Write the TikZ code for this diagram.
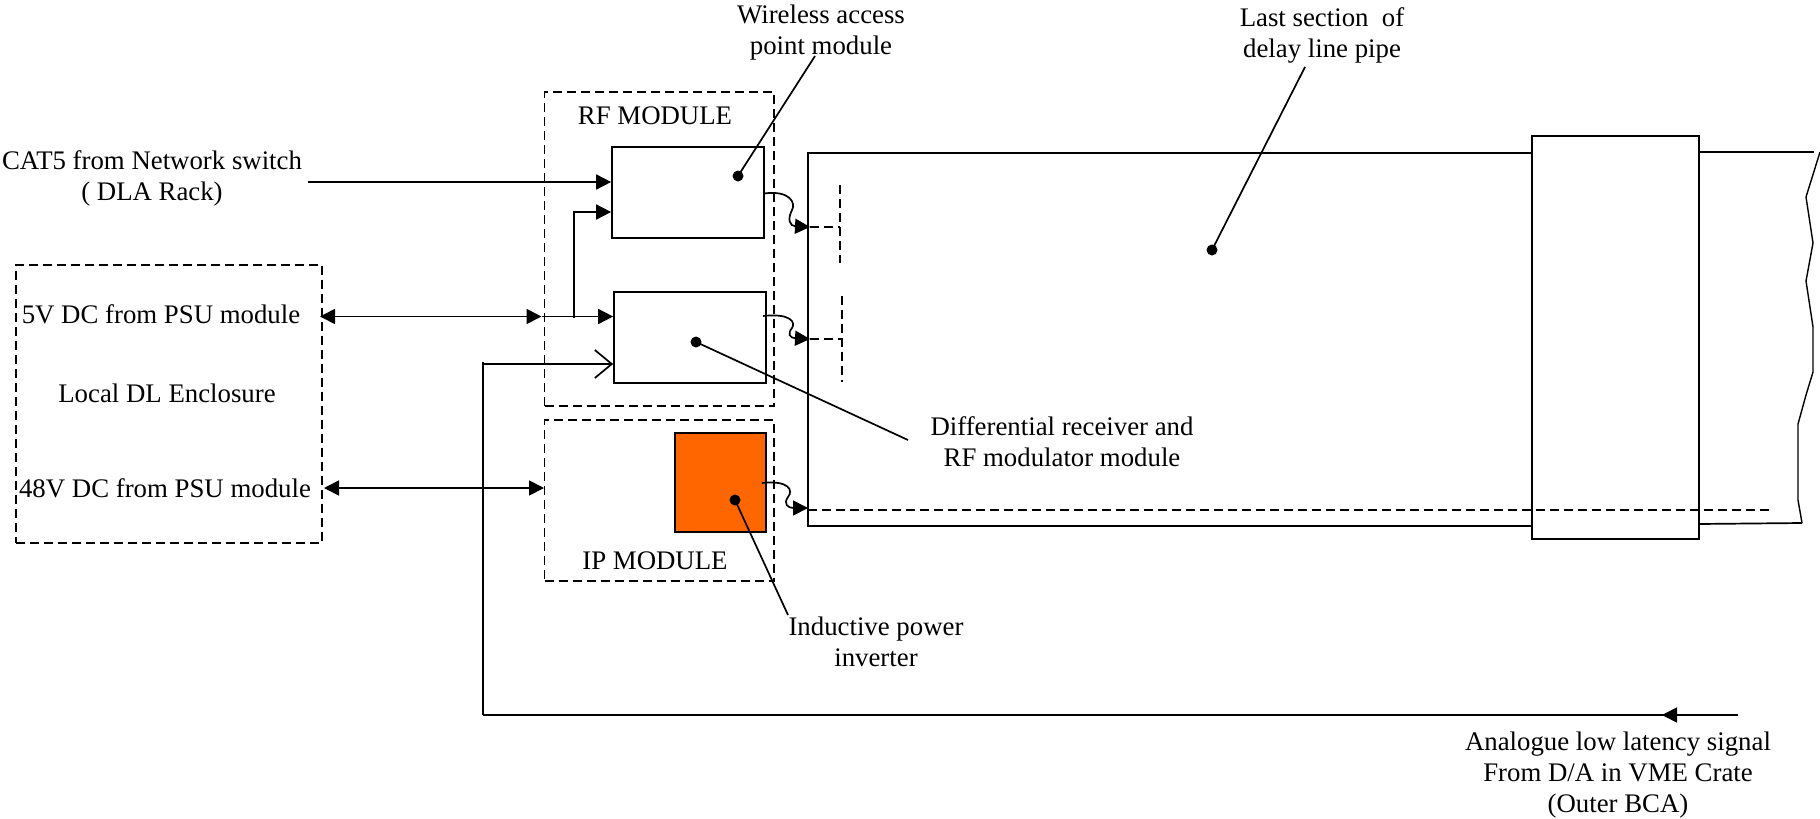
\documentclass[tikz,border=0pt]{standalone}
\usepackage{fontspec}
\setmainfont{Liberation Serif}
\usetikzlibrary{arrows.meta}
\definecolor{ipfill}{RGB}{255,102,0}
\tikzset{
  x=1pt,y=-1pt,
  every path/.style={line width=1.7pt},
  lbl/.style={inner sep=0pt,align=center,font=\fontsize{26.8}{31}\selectfont},
  solidbox/.style={draw,rectangle,inner sep=0pt,minimum width=#1},
  dashbox/.style={draw,rectangle,inner sep=0pt,dash pattern=on 9pt off 5pt,minimum width=#1},
  dashln/.style={dash pattern=on 9pt off 5pt},
  solidtip/.style={-{Triangle[length=15pt,width=15pt]}},
  bothtip/.style={{Triangle[length=15pt,width=15pt]}-{Triangle[length=15pt,width=15pt]}},
  opentip/.style={-{Straight Barb[length=17pt,width=28pt,line width=1.7pt]}},
  dotmark/.style={circle,fill=black,inner sep=0pt,minimum size=11pt},
}
\begin{document}
\begin{tikzpicture}
\useasboundingbox (0,0) rectangle (1820,819);
% dashed enclosures
\node[dashbox=229.5pt,minimum height=314pt] (rfmod) at (659.25,249) {};
\node[dashbox=229.5pt,minimum height=161pt] (ipmod) at (659.25,500.5) {};
\node[dashbox=306pt,minimum height=278pt] (encl) at (169,404) {};
% module boxes
\node[solidbox=152pt,minimum height=91pt] (wap) at (688,192.5) {};
\node[solidbox=152pt,minimum height=91pt] (rx) at (690,337.5) {};
\node[solidbox=91pt,minimum height=99pt,fill=ipfill] (ipi) at (720.5,482.5) {};
% pipe
\coordinate (ptl) at (808,153);
\coordinate (pbl) at (808,526);
\coordinate (ctl) at (1532,153);
\coordinate (cbl) at (1532,526);
\coordinate (ctr) at (1699,152);
\coordinate (cbr) at (1699,524);
\coordinate (rtop) at (1814,152);
\coordinate (rbot) at (1802,523);
\draw (ctl) -- (ptl) -- (pbl) -- (cbl);
\draw (ctr) -- (rtop);
\draw (cbr) -- (rbot);
\draw[line width=1.4pt] (1820,152) -- (1806,197) -- (1813,243) -- (1806,281) -- (1813,327) -- (1813,372) -- (1806,395) -- (1798,424) -- (1798,500) -- (rbot);
% antennas / dashed
\coordinate (t1) at (810,227);
\coordinate (t2) at (810,339);
\coordinate (t3) at (808,508);
\coordinate (a1) at (840,227);
\coordinate (a2) at (842,339);
\coordinate (a3) at (1770,510);
\draw[dashln] (t1) -- (a1);
\draw[dashln] (840,185) -- (840,263);
\draw[dashln] (t2) -- (a2);
\draw[dashln] (842,296) -- (842,382);
\draw[dashln] (808,510) -- (a3);
% collar
\node[solidbox=167pt,minimum height=403pt] (collar) at (1615.5,337.5) {};
% wavy links
\draw[solidtip] (764,193.5) .. controls (790,190) and (796,203) .. (792,210) .. controls (787,220) and (790,226) .. (t1);
\draw[solidtip] (763,316) .. controls (790,313) and (796,322) .. (792,328) .. controls (787,334) and (790,338) .. (t2);
\draw[solidtip] (762,483) .. controls (788,480) and (794,490) .. (788,497) .. controls (783,504) and (788,508) .. (t3);
% arrows
\node[lbl] (cat) at (152,178) {CAT5 from Network switch\\( DLA Rack)};
\coordinate (catend) at (308,182);
\draw[solidtip] (catend) -- (wap.west|-catend);
\coordinate (j) at (574,318);
\coordinate (jt) at (574,212);
\draw[solidtip] (j) -- (jt) -- (wap.west|-jt);
\coordinate (dc5l) at (320,316.5);
\coordinate (dc5r) at (541.5,316.5);
\draw[bothtip] (dc5l) -- (dc5r);
\draw[solidtip] (dc5r) -- (rx.west|-dc5r);
\coordinate (dc48l) at (324,488);
\coordinate (dc48r) at (544,488);
\draw[bothtip] (dc48l) -- (dc48r);
\coordinate (sigc) at (483,715);
\coordinate (sigtop) at (483,362);
\coordinate (sigt) at (483,364);
\coordinate (sigr) at (1738,715);
\coordinate (sigm) at (1662,715);
\draw (sigc) -- (sigtop);
\draw[opentip] (sigt) -- (rx.west|-sigt);
\draw (sigr) -- (sigc);
\draw[solidtip] (sigr) -- (sigm);
% labels
\node[lbl] at (655,116) {RF MODULE};
\node[lbl] at (655,560.5) {IP MODULE};
\node[lbl] at (161,314) {5V DC from PSU module};
\node[lbl] at (167,393.5) {Local DL Enclosure};
\node[lbl] at (165,488) {48V DC from PSU module};
\node[lbl] (wapl) at (821,33) {Wireless access\\point module};
\node[lbl] (lastl) at (1322,35) {Last section\ \ of\\delay line pipe};
\node[lbl] (diffl) at (1062,442) {Differential receiver and\\RF modulator module};
\node[lbl] (indl) at (876,642) {Inductive power\\inverter};
\node[lbl] (anal) at (1618,775.5) {Analogue low latency signal\\From D/A in VME Crate\\(Outer BCA)};
% leaders
\node[dotmark] (d1) at (738,176) {};
\node[dotmark] (d2) at (696,342) {};
\node[dotmark] (d3) at (735,500) {};
\node[dotmark] (d4) at (1212,250) {};
\coordinate (e1) at (815,56);
\coordinate (e2) at (908,440);
\coordinate (e3) at (788,615);
\coordinate (e4) at (1305,67);
\draw (d1.center) -- (e1);
\draw (d2.center) -- (e2);
\draw (d3.center) -- (e3);
\draw (d4.center) -- (e4);
\end{tikzpicture}
\end{document}
